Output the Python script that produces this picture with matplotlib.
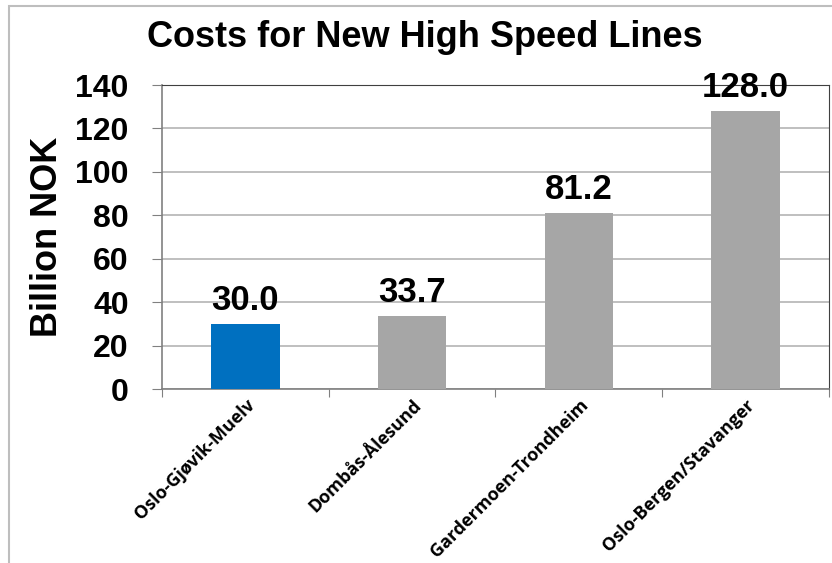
import matplotlib.pyplot as plt
from matplotlib.patches import Rectangle

# Kostnader for nye høyhastighetsbaner (mrd NOK)
lines = ['Oslo-Gjøvik-Muelv', 'Dombås-Ålesund', 'Gardermoen-Trondheim', 'Oslo-Bergen/Stavanger']
costs = [30.0, 33.7, 81.2, 128.0]
colors = ['#0070C0', '#A6A6A6', '#A6A6A6', '#A6A6A6']
yticks = [0, 20, 40, 60, 80, 100, 120, 140]

plt.rcParams['font.family'] = ['Liberation Sans', 'DejaVu Sans']

fig = plt.figure(figsize=(8.32, 5.63), dpi=100)
ax = fig.add_axes([0.1947, 0.309, 0.8017, 0.540])

x = range(len(lines))
ax.bar(x, costs, width=0.41, color=colors, zorder=3)
ax.set_xlim(-0.5, len(lines) - 0.5)
ax.set_ylim(0, 140)

# verdier over søylene
for i, v in enumerate(costs):
    ax.annotate('%.1f' % v, (i, v), xytext=(0, 5), textcoords='offset points',
                ha='center', va='bottom', fontsize=25, fontweight='bold',
                annotation_clip=False, zorder=5)

ax.set_yticks(yticks)
ax.set_yticklabels([str(t) for t in yticks], fontsize=23, fontweight='bold')
ax.tick_params(axis='y', length=7, pad=17, color='#808080', direction='out')
ax.grid(axis='y', color='#B4B4B4', linewidth=1.2, zorder=0)

# kategorier med skillestreker mellom søylene
ax.set_xticks([i - 0.5 for i in range(len(lines) + 1)], minor=False)
ax.set_xticklabels([])
ax.tick_params(axis='x', length=6, color='#808080', direction='out')
ax.set_xticks(list(x), minor=True)
ax.set_xticklabels(lines, minor=True, rotation=45, ha='right', va='top',
                   rotation_mode='anchor', fontsize=13, fontweight='bold',
                   family=['Open Sans', 'DejaVu Sans'])
ax.tick_params(axis='x', which='minor', length=0, pad=5)

ax.set_ylabel('Billion NOK', fontsize=26, fontweight='bold')
ax.yaxis.set_label_coords(-0.146, 0.5)

for s in ['left', 'bottom']:
    ax.spines[s].set_color('#808080')
    ax.spines[s].set_linewidth(1.2)
ax.spines['top'].set_color('#404040')
ax.spines['right'].set_color('#404040')

fig.text(0.51, 0.9165, 'Costs for New High Speed Lines', ha='center', va='baseline',
         fontsize=26, fontweight='bold')

# ramme rundt diagrammet
fig.patches.append(Rectangle((0.011, -0.1), 1.2, 0.1 + 1 - 0.011, transform=fig.transFigure,
                             fill=False, edgecolor='#BEBEBE', linewidth=1.5))

fig.savefig('out.png', dpi=100)
